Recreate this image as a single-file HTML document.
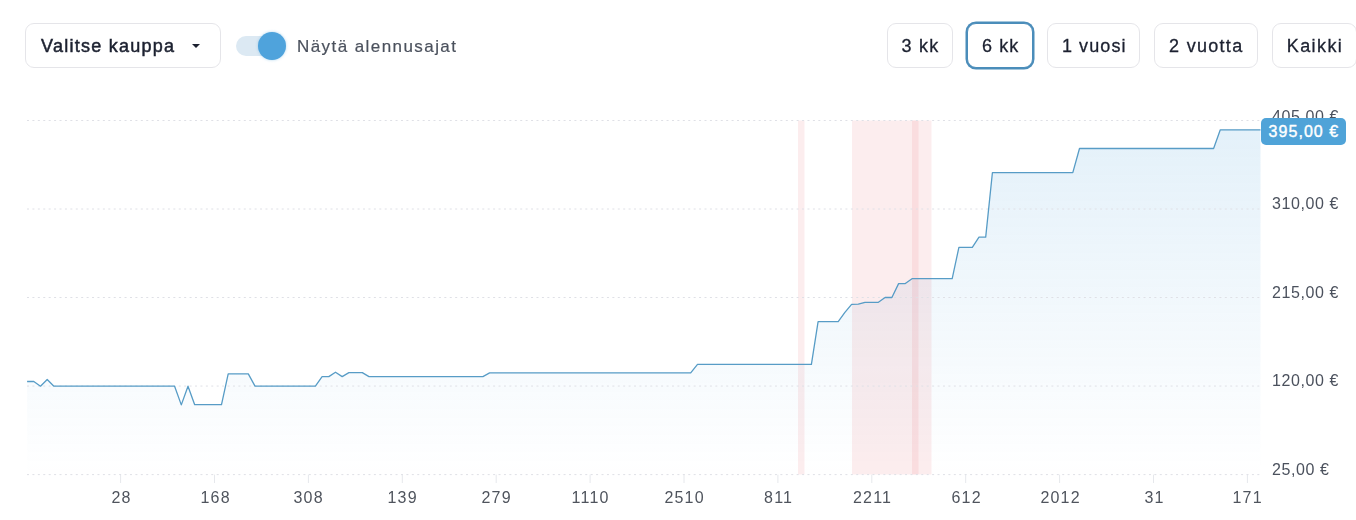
<!DOCTYPE html>
<html><head><meta charset="utf-8"><title>chart</title>
<style>
html,body{margin:0;padding:0;background:#fff;}
body{width:1356px;height:520px;position:relative;overflow:hidden;font-family:"Liberation Sans",sans-serif;}
.btn{position:absolute;top:23px;height:45px;box-sizing:border-box;border:1px solid #e5e5e9;border-radius:9px;background:#fff;
 color:#1c2130;font-size:18px;line-height:45px;text-align:center;-webkit-text-stroke:0.3px #1c2130;letter-spacing:1.1px;white-space:nowrap;}
.btn.sel{border-color:#4b8dba;box-shadow:0 0 0 1.5px #4b8dba;}
.dd{left:25px;width:196px;text-align:left;padding-left:15px;-webkit-text-stroke:0.5px #1c2130;letter-spacing:1.25px;}
.caret{position:absolute;left:192px;top:44px;width:0;height:0;border-left:4px solid transparent;border-right:4px solid transparent;border-top:4.5px solid #1c2130;}
.track{position:absolute;left:236px;top:36px;width:48px;height:20px;border-radius:10px;background:#dce9f3;}
.knob{position:absolute;left:257.6px;top:31.8px;width:28px;height:28px;border-radius:50%;background:#4fa3dc;box-shadow:0 0 3px rgba(79,163,220,0.45);}
.tl{position:absolute;left:296.5px;top:35px;font-size:17px;line-height:24px;color:#4b515d;-webkit-text-stroke:0.2px #4b515d;letter-spacing:1.43px;white-space:nowrap;}
svg{position:absolute;left:0;top:0;}
.btn,.tl,.xl,.yl{will-change:transform;}
.xl{position:absolute;top:488px;width:80px;text-align:center;font-size:16px;line-height:20px;color:#4f545d;letter-spacing:1.2px;padding-left:1.2px;box-sizing:border-box;}
.yl{position:absolute;left:1272.3px;width:98px;text-align:left;font-size:16px;line-height:20px;color:#4b515d;letter-spacing:0.6px;white-space:nowrap;}
.badge{position:absolute;left:1261px;top:118.3px;width:84.8px;height:26.5px;border-radius:5px;background:#4fa3d8;color:#fff;font-size:16px;line-height:26.5px;text-align:center;letter-spacing:1.05px;padding-left:1px;padding-top:0.8px;box-sizing:border-box;-webkit-text-stroke:0.4px #fff;white-space:nowrap;}
</style></head><body>
<div class="btn dd">Valitse kauppa</div><div class="caret"></div>
<div class="track"></div><div class="knob"></div><div class="tl">Näytä alennusajat</div>
<div class="btn" style="left:887px;width:66px;padding-left:1px;letter-spacing:1.2px">3 kk</div>
<div class="btn sel" style="left:967px;width:66px;padding-left:1.5px">6 kk</div>
<div class="btn" style="left:1047px;width:92.5px;padding-left:2px">1 vuosi</div>
<div class="btn" style="left:1154px;width:103.5px;letter-spacing:1.3px;padding-left:1px">2 vuotta</div>
<div class="btn" style="left:1272px;width:85px;letter-spacing:1.4px;padding-left:1px">Kaikki</div>
<svg width="1356" height="520" viewBox="0 0 1356 520">
<defs><linearGradient id="g" gradientUnits="userSpaceOnUse" x1="0" y1="120" x2="0" y2="474"><stop offset="0" stop-color="#4fa3dc" stop-opacity="0.16"/><stop offset="1" stop-color="#4fa3dc" stop-opacity="0"/></linearGradient></defs>
<g stroke="#e6e8ec" stroke-width="1" fill="none"><line x1="120.6" x2="120.6" y1="474.6" y2="483"/><line x1="214.5" x2="214.5" y1="474.6" y2="483"/><line x1="308.4" x2="308.4" y1="474.6" y2="483"/><line x1="402.3" x2="402.3" y1="474.6" y2="483"/><line x1="496.2" x2="496.2" y1="474.6" y2="483"/><line x1="590.1" x2="590.1" y1="474.6" y2="483"/><line x1="684.0" x2="684.0" y1="474.6" y2="483"/><line x1="777.9" x2="777.9" y1="474.6" y2="483"/><line x1="871.8" x2="871.8" y1="474.6" y2="483"/><line x1="965.7" x2="965.7" y1="474.6" y2="483"/><line x1="1059.6" x2="1059.6" y1="474.6" y2="483"/><line x1="1153.5" x2="1153.5" y1="474.6" y2="483"/><line x1="1247.4" x2="1247.4" y1="474.6" y2="483"/></g>
<path d="M27.1 381.5 L33.8 381.5 L40.5 386.2 L47.2 379.5 L53.9 386.2 L60.6 386.2 L67.3 386.2 L74.0 386.2 L80.7 386.2 L87.4 386.2 L94.1 386.2 L100.8 386.2 L107.5 386.2 L114.2 386.2 L120.9 386.2 L127.7 386.2 L134.4 386.2 L141.1 386.2 L147.8 386.2 L154.5 386.2 L161.2 386.2 L167.9 386.2 L174.6 386.2 L181.3 404.9 L188.0 386.2 L194.7 404.7 L201.4 404.7 L208.1 404.7 L214.8 404.7 L221.5 404.7 L228.2 373.9 L234.9 373.9 L241.6 373.9 L248.3 373.9 L255.0 386.1 L261.7 386.1 L268.4 386.1 L275.1 386.1 L281.8 386.1 L288.5 386.1 L295.2 386.1 L301.9 386.1 L308.6 386.1 L315.4 386.1 L322.1 376.6 L328.8 376.6 L335.5 372.2 L342.2 376.6 L348.9 372.6 L355.6 372.6 L362.3 372.6 L369.0 376.6 L375.7 376.6 L382.4 376.6 L389.1 376.6 L395.8 376.6 L402.5 376.6 L409.2 376.6 L415.9 376.6 L422.6 376.6 L429.3 376.6 L436.0 376.6 L442.7 376.6 L449.4 376.6 L456.1 376.6 L462.8 376.6 L469.5 376.6 L476.2 376.6 L482.9 376.6 L489.6 372.9 L496.3 372.9 L503.0 372.9 L509.8 372.9 L516.5 372.9 L523.2 372.9 L529.9 372.9 L536.6 372.9 L543.3 372.9 L550.0 372.9 L556.7 372.9 L563.4 372.9 L570.1 372.9 L576.8 372.9 L583.5 372.9 L590.2 372.9 L596.9 372.9 L603.6 372.9 L610.3 372.9 L617.0 372.9 L623.7 372.9 L630.4 372.9 L637.1 372.9 L643.8 372.9 L650.5 372.9 L657.2 372.9 L663.9 372.9 L670.6 372.9 L677.3 372.9 L684.0 372.9 L690.7 372.9 L697.5 364.4 L704.2 364.4 L710.9 364.4 L717.6 364.4 L724.3 364.4 L731.0 364.4 L737.7 364.4 L744.4 364.4 L751.1 364.4 L757.8 364.4 L764.5 364.4 L771.2 364.4 L777.9 364.4 L784.6 364.4 L791.3 364.4 L798.0 364.4 L804.7 364.4 L811.4 364.4 L818.1 321.7 L824.8 321.7 L831.5 321.7 L838.2 321.7 L844.9 312.4 L851.6 304.3 L858.3 304.1 L865.0 302.3 L871.7 302.3 L878.4 302.3 L885.1 297.5 L891.9 297.5 L898.6 283.6 L905.3 283.6 L912.0 278.7 L918.7 278.7 L925.4 278.7 L932.1 278.7 L938.8 278.7 L945.5 278.7 L952.2 278.7 L958.9 247.3 L965.6 247.3 L972.3 247.3 L979.0 237.1 L985.7 237.1 L992.4 172.7 L999.1 172.7 L1005.8 172.7 L1012.5 172.7 L1019.2 172.7 L1025.9 172.7 L1032.6 172.7 L1039.3 172.7 L1046.0 172.7 L1052.7 172.7 L1059.4 172.7 L1066.1 172.7 L1072.8 172.7 L1079.5 148.5 L1086.3 148.5 L1093.0 148.5 L1099.7 148.5 L1106.4 148.5 L1113.1 148.5 L1119.8 148.5 L1126.5 148.5 L1133.2 148.5 L1139.9 148.5 L1146.6 148.5 L1153.3 148.5 L1160.0 148.5 L1166.7 148.5 L1173.4 148.5 L1180.1 148.5 L1186.8 148.5 L1193.5 148.5 L1200.2 148.5 L1206.9 148.5 L1213.6 148.5 L1220.3 129.8 L1227.0 129.8 L1233.7 129.8 L1240.4 129.8 L1247.1 129.8 L1253.8 129.8 L1260.5 129.8 L1260.5 474.6 L27.1 474.6 Z" fill="url(#g)" stroke="none"/>
<g fill="rgba(220,53,69,0.092)"><rect x="798" y="120.5" width="6.5" height="354"/><rect x="852" y="120.5" width="79.5" height="354"/><rect x="912" y="120.5" width="6.5" height="354"/></g>
<g stroke="#dfe0e6" stroke-width="1" stroke-dasharray="2 3.42" fill="none"><line x1="27" x2="1260.5" y1="120.5" y2="120.5"/><line x1="27" x2="1260.5" y1="209" y2="209"/><line x1="27" x2="1260.5" y1="297.5" y2="297.5"/><line x1="27" x2="1260.5" y1="386.05" y2="386.05"/><line x1="27" x2="1260.5" y1="474.6" y2="474.6"/></g>
<path d="M27.1 381.5 L33.8 381.5 L40.5 386.2 L47.2 379.5 L53.9 386.2 L60.6 386.2 L67.3 386.2 L74.0 386.2 L80.7 386.2 L87.4 386.2 L94.1 386.2 L100.8 386.2 L107.5 386.2 L114.2 386.2 L120.9 386.2 L127.7 386.2 L134.4 386.2 L141.1 386.2 L147.8 386.2 L154.5 386.2 L161.2 386.2 L167.9 386.2 L174.6 386.2 L181.3 404.9 L188.0 386.2 L194.7 404.7 L201.4 404.7 L208.1 404.7 L214.8 404.7 L221.5 404.7 L228.2 373.9 L234.9 373.9 L241.6 373.9 L248.3 373.9 L255.0 386.1 L261.7 386.1 L268.4 386.1 L275.1 386.1 L281.8 386.1 L288.5 386.1 L295.2 386.1 L301.9 386.1 L308.6 386.1 L315.4 386.1 L322.1 376.6 L328.8 376.6 L335.5 372.2 L342.2 376.6 L348.9 372.6 L355.6 372.6 L362.3 372.6 L369.0 376.6 L375.7 376.6 L382.4 376.6 L389.1 376.6 L395.8 376.6 L402.5 376.6 L409.2 376.6 L415.9 376.6 L422.6 376.6 L429.3 376.6 L436.0 376.6 L442.7 376.6 L449.4 376.6 L456.1 376.6 L462.8 376.6 L469.5 376.6 L476.2 376.6 L482.9 376.6 L489.6 372.9 L496.3 372.9 L503.0 372.9 L509.8 372.9 L516.5 372.9 L523.2 372.9 L529.9 372.9 L536.6 372.9 L543.3 372.9 L550.0 372.9 L556.7 372.9 L563.4 372.9 L570.1 372.9 L576.8 372.9 L583.5 372.9 L590.2 372.9 L596.9 372.9 L603.6 372.9 L610.3 372.9 L617.0 372.9 L623.7 372.9 L630.4 372.9 L637.1 372.9 L643.8 372.9 L650.5 372.9 L657.2 372.9 L663.9 372.9 L670.6 372.9 L677.3 372.9 L684.0 372.9 L690.7 372.9 L697.5 364.4 L704.2 364.4 L710.9 364.4 L717.6 364.4 L724.3 364.4 L731.0 364.4 L737.7 364.4 L744.4 364.4 L751.1 364.4 L757.8 364.4 L764.5 364.4 L771.2 364.4 L777.9 364.4 L784.6 364.4 L791.3 364.4 L798.0 364.4 L804.7 364.4 L811.4 364.4 L818.1 321.7 L824.8 321.7 L831.5 321.7 L838.2 321.7 L844.9 312.4 L851.6 304.3 L858.3 304.1 L865.0 302.3 L871.7 302.3 L878.4 302.3 L885.1 297.5 L891.9 297.5 L898.6 283.6 L905.3 283.6 L912.0 278.7 L918.7 278.7 L925.4 278.7 L932.1 278.7 L938.8 278.7 L945.5 278.7 L952.2 278.7 L958.9 247.3 L965.6 247.3 L972.3 247.3 L979.0 237.1 L985.7 237.1 L992.4 172.7 L999.1 172.7 L1005.8 172.7 L1012.5 172.7 L1019.2 172.7 L1025.9 172.7 L1032.6 172.7 L1039.3 172.7 L1046.0 172.7 L1052.7 172.7 L1059.4 172.7 L1066.1 172.7 L1072.8 172.7 L1079.5 148.5 L1086.3 148.5 L1093.0 148.5 L1099.7 148.5 L1106.4 148.5 L1113.1 148.5 L1119.8 148.5 L1126.5 148.5 L1133.2 148.5 L1139.9 148.5 L1146.6 148.5 L1153.3 148.5 L1160.0 148.5 L1166.7 148.5 L1173.4 148.5 L1180.1 148.5 L1186.8 148.5 L1193.5 148.5 L1200.2 148.5 L1206.9 148.5 L1213.6 148.5 L1220.3 129.8 L1227.0 129.8 L1233.7 129.8 L1240.4 129.8 L1247.1 129.8 L1253.8 129.8 L1260.5 129.8" fill="none" stroke="#579cc6" stroke-width="1.3" stroke-linejoin="round"/>
</svg>
<div class="xl" style="left:80.6px">28</div><div class="xl" style="left:174.5px">168</div><div class="xl" style="left:268.4px">308</div><div class="xl" style="left:362.3px">139</div><div class="xl" style="left:456.2px">279</div><div class="xl" style="left:550.1px">1110</div><div class="xl" style="left:644.0px">2510</div><div class="xl" style="left:737.9px">811</div><div class="xl" style="left:831.8px">2211</div><div class="xl" style="left:925.7px">612</div><div class="xl" style="left:1019.6px">2012</div><div class="xl" style="left:1113.5px">31</div><div class="xl" style="left:1207.4px">171</div>
<div class="yl" style="top:107.1px">405,00 €</div><div class="yl" style="top:194.0px">310,00 €</div><div class="yl" style="top:282.5px">215,00 €</div><div class="yl" style="top:371.1px">120,00 €</div><div class="yl" style="top:459.6px">25,00 €</div>
<div class="badge">395,00 €</div>
</body></html>
